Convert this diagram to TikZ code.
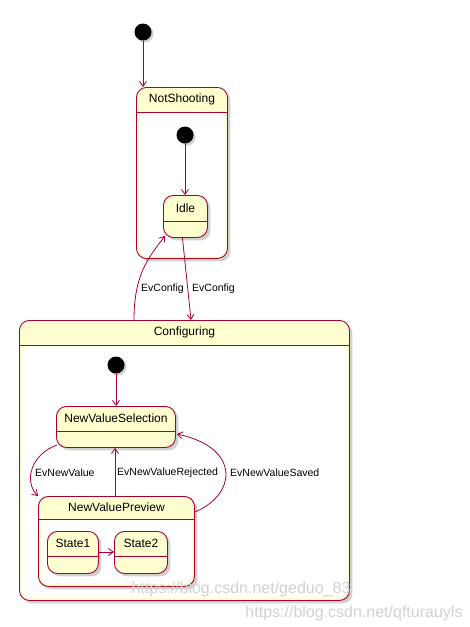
\documentclass[tikz,border=0pt]{standalone}
\usepackage{fontspec}
\setmainfont{Liberation Sans}
\usepackage{tikz}
\usetikzlibrary{calc,shadows,arrows.meta}

\definecolor{umlred}{HTML}{A80036}
\definecolor{umlfill}{HTML}{FEFECE}

\begin{document}
\begin{tikzpicture}[x=1pt,y=-1pt]
				\tikzset{state/.style = {draw=umlred, fill=umlfill, line width=0.9pt, rounded corners=10pt, anchor=north west,
						drop shadow={shadow xshift=3pt, shadow yshift=-3pt, opacity=0.3, fill=black!60}},
					inside/.style = {fill=white, rounded corners=8pt},
					start/.style = {circle, fill=black, inner sep=0pt, minimum size=17pt,
						drop shadow={shadow xshift=2pt, shadow yshift=-2pt, opacity=0.3, fill=black!60}},
					title/.style = {font=\fontsize{12}{14}\selectfont, inner sep=0pt},
					ev/.style = {font=\fontsize{10.5}{12}\selectfont, inner sep=0pt, anchor=west},
					tr/.style = {draw=umlred, line width=0.8pt, -{Straight Barb[length=5pt,width=7pt]}},
					wmark/.style = {font=\fontsize{16}{18}\selectfont, text=black!18, inner sep=0pt}}
				\useasboundingbox (0,0) rectangle (470,627);
				\newcommand\hdr{25}
				% outer states
				\node[state, minimum width=91, minimum height=171] (ns) at (136,87) {};
				\node[state, minimum width=330, minimum height=280] (cfg) at (19,320) {};
				\fill[inside] ($(ns.north west)+(3,\hdr)$) rectangle ($(ns.south east)+(-3,-3)$);
				\fill[inside] ($(cfg.north west)+(3,\hdr)$) rectangle ($(cfg.south east)+(-3,-3)$);
				\node[state, minimum width=44, minimum height=42] (idle) at (163,195) {};
				\node[state, minimum width=119, minimum height=41] (sel) at (56,406) {};
				\node[state, minimum width=156, minimum height=90] (prev) at (38,496) {};
				\fill[inside, rounded corners=7pt] ($(prev.north west)+(3,23)$) rectangle ($(prev.south east)+(-3,-3)$);
				\node[state, minimum width=51, minimum height=42] (st1) at (47,531) {};
				\node[state, minimum width=53, minimum height=42] (st2) at (114,531) {};
				% titles and header lines
				\foreach \n/\t/\h in {ns/NotShooting/\hdr, cfg/Configuring/\hdr, idle/Idle/26, sel/NewValueSelection/25,
					prev/NewValuePreview/23, st1/State1/25, st2/State2/25}{
					\node[title] (\n-t) at ($(\n.north)+(0,\h/2)$) {\t};
					\draw[umlred, line width=0.9pt] ($(\n.north west)+(0,\h)$) -- ($(\n.north east)+(0,\h)$);
				}
				% start points
				\node[start] (s1) at (143,32) {};
				\node[start] (s2) at (185,135) {};
				\node[start] (s3) at (116,365) {};
				% transitions
				\draw[tr] (s1) -- (s1 |- ns.north);
				\draw[tr] (s2) -- (s2 |- idle.north);
				\draw[tr] (s3) -- (s3 |- sel.north);
				\coordinate (cfgl) at (134,320);
				\coordinate (cfgr) at (191,320);
				\draw[tr] (cfgl) .. controls (134,275) and (148,258) .. ($(idle.south west)+(2,-2)$);
				\draw[tr] ($(idle.south)+(-3,0)$) -- (cfgr);
				\draw[tr] ($(sel.south west)+(1,-3)$) .. controls (30,455) and (24,482) .. ($(prev.north west)+(0,0)$);
				\draw[tr] (prev.north -| 115,0) -- (sel.south -| 115,0);
				\draw[tr] ($(prev.north east)+(0,16)$) .. controls (236,495) and (242,448) .. ($(sel.north east)+(1,28)$);
				\draw[tr] (st1.east |- 0,552) -- (st2.west |- 0,552);
				% labels
				\node[ev] (l1) at (141,289) {EvConfig};
				\node[ev] (l2) at (192,289) {EvConfig};
				\node[ev] (l3) at (35,473) {EvNewValue};
				\node[ev] (l4) at (117,473) {EvNewValueRejected};
				\node[ev] (l5) at (230,473) {EvNewValueSaved};
				% watermarks
				\node[wmark] (wm1) at (241,589) {https://blog.csdn.net/geduo\_83};
				\node[wmark] (wm2) at (354,613) {https://blog.csdn.net/qfturauyls};
			\end{tikzpicture}
\end{document}
